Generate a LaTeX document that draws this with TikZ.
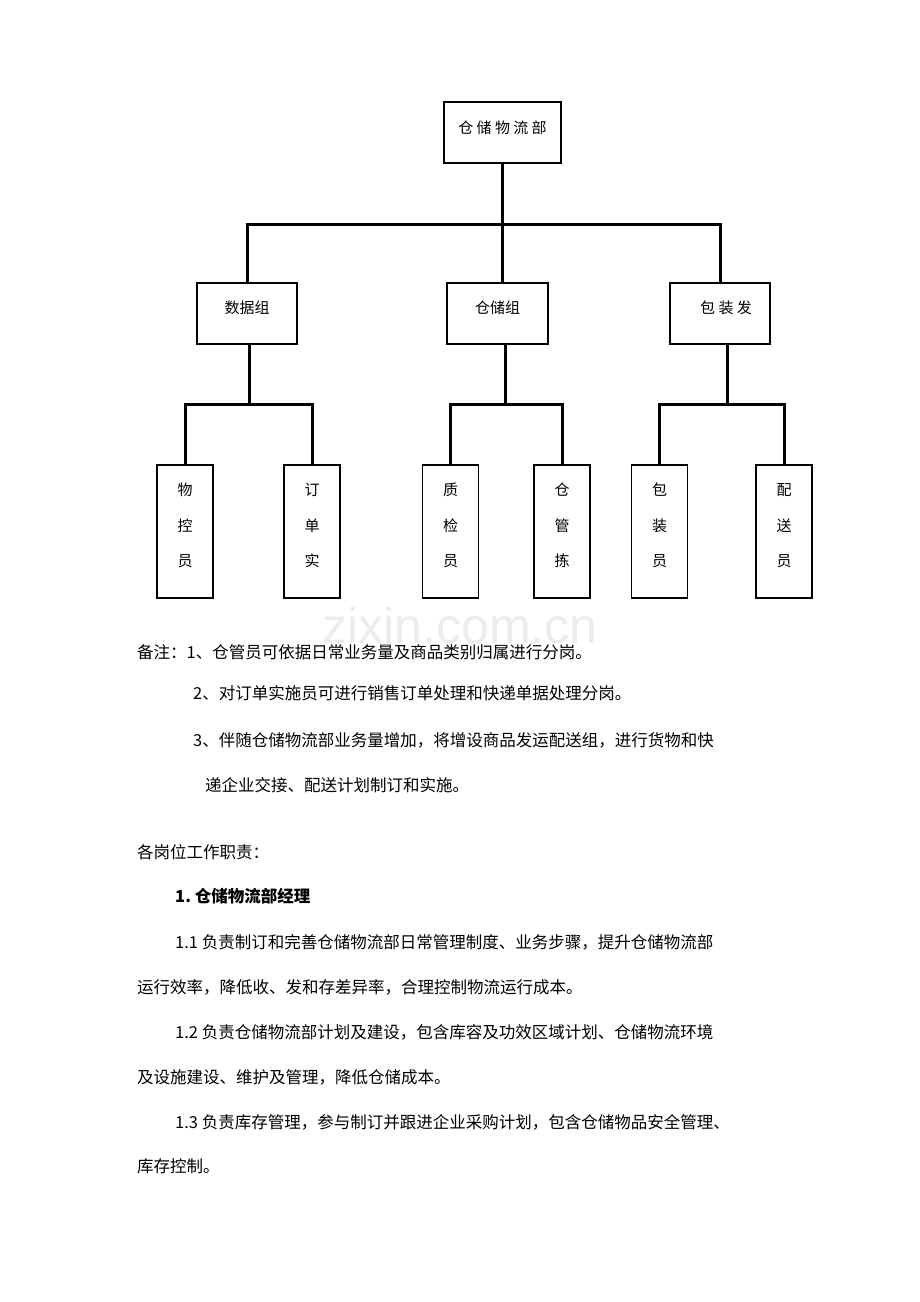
\documentclass[tikz,border=0pt]{standalone}
\usepackage{fontspec}
\setmainfont{Noto Sans CJK SC}
\newfontfamily\wmfont{Liberation Sans}
\usetikzlibrary{positioning}
\tikzset{
  box/.style={draw,line width=1.7pt,inner sep=0pt},
  tree/.style={line width=3pt},
  line/.style={anchor=west,inner sep=0pt,font=\fontsize{16.5}{16.5}\selectfont},
  leaf/.style={box,minimum width=56pt,minimum height=133pt,anchor=north},
  ch/.style={inner sep=0pt,font=\fontsize{15}{15}\selectfont}
}
\begin{document}
\begin{tikzpicture}[x=1pt,y=-1pt]
  \useasboundingbox (0,0) rectangle (920,1302);
  % watermark
  \node[text=gray!15,font=\wmfont\fontsize{50}{50}\selectfont] (wm) at (460,626) {zixin.com.cn};
  % boxes
  \node[box,minimum width=117pt,minimum height=61pt] (dept) at (502.5,132.5) {};
  \node[ch] at (502.5,128) {仓 储 物 流 部};
  \node[box,minimum width=100pt,minimum height=61pt] (data) at (247,313.5) {};
  \node[ch] at (247,308) {数据组};
  \node[box,minimum width=101pt,minimum height=61pt] (store) at (497.5,313.5) {};
  \node[ch] at (497.5,308) {仓储组};
  \node[box,minimum width=100pt,minimum height=61pt] (pack) at (720,313.5) {};
  \node[ch] at (726,308) {包 装 发};
  % leaves
  \foreach \n/\x/\a/\b/\c in {wk/185/物/控/员, dd/312/订/单/实, zj/450.5/质/检/员,
                               cg/562/仓/管/拣, bz/659.5/包/装/员, ps/784/配/送/员}{
    \node[leaf] (\n) at (\x,464) {};
    \node[ch] at (\x,490) {\a};
    \node[ch] at (\x,526) {\b};
    \node[ch] at (\x,561) {\c};
  }
  % connectors
  \draw[tree] (dept.south) -- (502.5,224) coordinate (j0);
  \draw[tree] (data.north) |- (j0) -| (pack.north);
  \draw[tree] (j0) -- (j0 |- store.north);
  \draw[tree] (249,344) coordinate (d1) -- (249,404);
  \draw[tree] (wk.north) |- (d1 |- 0,404) -| (dd.north);
  \draw[tree] (505,344) coordinate (s1) -- (505,404);
  \draw[tree] (zj.north) |- (s1 |- 0,404) -| (cg.north);
  \draw[tree] (727,344) coordinate (p1) -- (727,404);
  \draw[tree] (bz.north) |- (p1 |- 0,404) -| (ps.north);
  % notes
  \node[line] (n1) at (137,652) {备注：1、仓管员可依据日常业务量及商品类别归属进行分岗。};
  \node[line] (n2) at (193,693) {2、对订单实施员可进行销售订单处理和快递单据处理分岗。};
  \node[line] (n3) at (193,740) {3、伴随仓储物流部业务量增加，将增设商品发运配送组，进行货物和快};
  \node[line] (n4) at (205,785) {递企业交接、配送计划制订和实施。};
  \node[line] (t0) at (137,852) {各岗位工作职责：};
  \node[line,font=\fontsize{16.5}{16.5}\selectfont\bfseries] (t1) at (175,896) {1.\ 仓储物流部经理};
  \node[line] (t2) at (175,942) {1.1 负责制订和完善仓储物流部日常管理制度、业务步骤，提升仓储物流部};
  \node[line] (t3) at (137,987) {运行效率，降低收、发和存差异率，合理控制物流运行成本。};
  \node[line] (t4) at (175,1032) {1.2 负责仓储物流部计划及建设，包含库容及功效区域计划、仓储物流环境};
  \node[line] (t5) at (137,1077) {及设施建设、维护及管理，降低仓储成本。};
  \node[line] (t6) at (175,1122) {1.3 负责库存管理，参与制订并跟进企业采购计划，包含仓储物品安全管理、};
  \node[line] (t7) at (137,1166) {库存控制。};
\end{tikzpicture}
\end{document}
